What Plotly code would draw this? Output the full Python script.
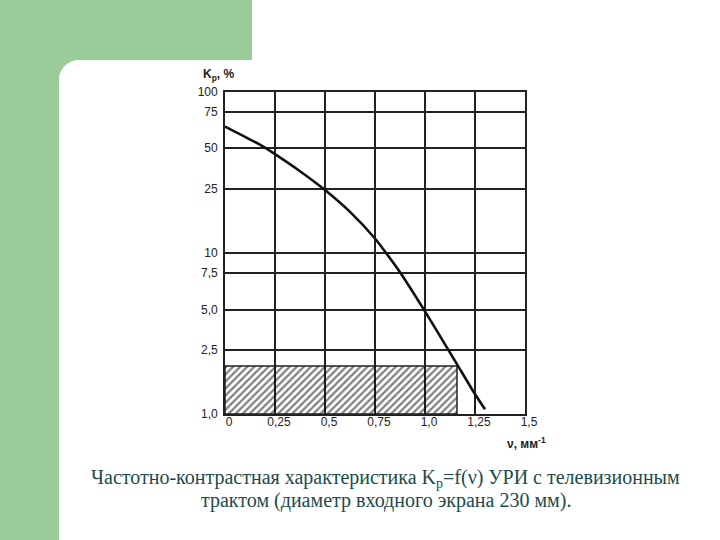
import plotly.graph_objects as go

# ---- data ----
x_ticks = [0, 0.25, 0.5, 0.75, 1.0, 1.25, 1.5]
x_tick_labels = ["0", "0,25", "0,5", "0,75", "1,0", "1,25", "1,5"]
# grid lines as drawn in the source (its "5,0" and "50" lines sit a little low)
y_ticks = [1, 2.5, 4.45, 7.5, 10, 25, 45, 75, 100]
y_tick_labels = ["1,0", "2,5", "5,0", "7,5", "10", "25", "50", "75", "100"]

curve_v = [0.0, 0.1, 0.187, 0.25, 0.375, 0.5, 0.625, 0.75, 0.808, 0.875, 1.0, 1.122, 1.162, 1.245, 1.30]
curve_k = [61.0, 52.7, 46.1, 41.1, 32.2, 24.6, 18.0, 12.3, 9.9, 7.6, 4.34, 2.44, 2.02, 1.36, 1.07]

hatch_v = [0, 1.16, 1.16, 0, 0]
hatch_k = [1, 1, 1.99, 1.99, 1]

caption_1 = "Частотно-контрастная характеристика K<sub>р</sub>=f(ν) УРИ с телевизионным"
caption_2 = "трактом (диаметр входного экрана 230 мм)."

# ---- layout geometry (pixels) ----
W, H = 720, 540
L, R, T, B = 225, 525, 92, 414


def px(X):
    return (X - L) / (R - L)


def py(Y):
    return (B - Y) / (B - T)


fig = go.Figure()

fig.add_trace(go.Scatter(
    x=hatch_v, y=hatch_k, mode="lines", fill="toself",
    fillcolor="rgba(0,0,0,0)",
    fillpattern=dict(shape="/", fgcolor="#000", bgcolor="rgba(255,255,255,0)",
                     size=5, solidity=0.45),
    line=dict(color="#222", width=1.5), hoverinfo="skip", showlegend=False))

fig.add_trace(go.Scatter(
    x=curve_v, y=curve_k, mode="lines",
    line=dict(color="#111", width=2.6, shape="spline", smoothing=0.6),
    showlegend=False))

axis_common = dict(showgrid=True, gridcolor="#222", gridwidth=1.7,
                   showline=True, linecolor="#222", linewidth=1.8, mirror=True,
                   ticks="", zeroline=False,
                   tickfont=dict(family="Liberation Sans, Arial", size=12, color="#222"))

fig.update_xaxes(range=[0, 1.5], tickvals=x_ticks, ticktext=x_tick_labels,
                 ticklabelshift=4, ticklabelstandoff=-4, **axis_common)
fig.update_yaxes(type="log", range=[0, 2], tickvals=y_ticks, ticktext=y_tick_labels,
                 ticklabelstandoff=3, **axis_common)

# green slide decoration
r = 20
k = 0.552 * r
gx, gy = 59, 60
path = (f"M {px(0)},{py(0)} L {px(252)},{py(0)} L {px(252)},{py(gy)} "
        f"L {px(gx + r)},{py(gy)} "
        f"C {px(gx + r - k)},{py(gy)} {px(gx)},{py(gy + r - k)} {px(gx)},{py(gy + r)} "
        f"L {px(gx)},{py(H)} L {px(0)},{py(H)} Z")
fig.add_shape(type="path", path=path, xref="paper", yref="paper",
              fillcolor="#9BCB9B", line=dict(width=0), layer="below")

ann_font = dict(family="Liberation Sans, Arial", size=12, color="#222")
common_ann = dict(xref="paper", yref="paper", showarrow=False,
                  xanchor="center", yanchor="middle")
fig.add_annotation(x=px(218), y=py(75), text="<b>K<sub>р</sub>, %</b>",
                   font=ann_font, **common_ann)
fig.add_annotation(x=px(526), y=py(443), text="<b>ν, мм<sup>-1</sup></b>",
                   font=ann_font, **common_ann)

cap_font = dict(family="Liberation Serif, Times New Roman", size=20, color="#1c4b4b")
fig.add_annotation(x=px(385), y=py(479), text=caption_1, font=cap_font, **common_ann)
fig.add_annotation(x=px(386), y=py(500), text=caption_2, font=cap_font, **common_ann)

fig.update_layout(width=W, height=H, margin=dict(l=L, r=W - R, t=T, b=H - B),
                  paper_bgcolor="white", plot_bgcolor="white", showlegend=False)

fig.write_html("out.html", config={"displayModeBar": False},
               post_script="document.body.style.margin='0';")
